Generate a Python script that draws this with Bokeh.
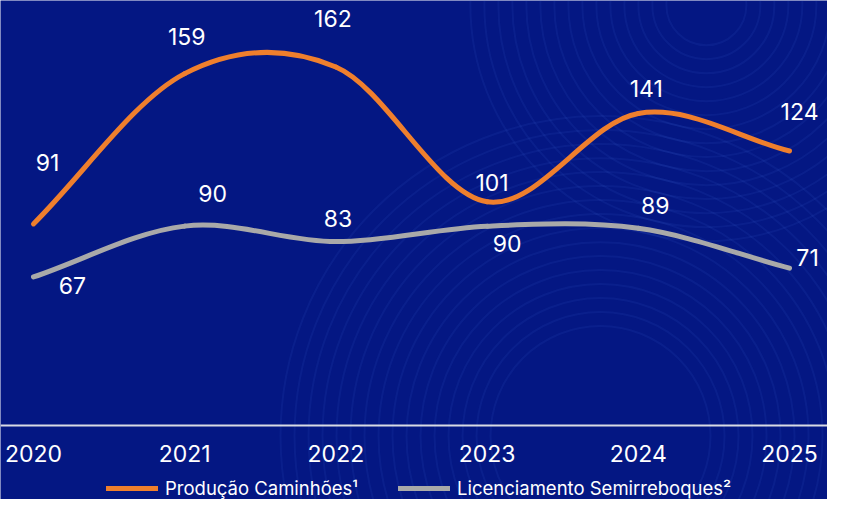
from bokeh.plotting import figure
from bokeh.models import (Range1d, LinearAxis, FixedTicker, Legend, LegendItem,
                          ColumnDataSource)
from bokeh.core.properties import value
from bokeh.embed import file_html
from bokeh.resources import INLINE

# ---------------- data ----------------
years = [2020, 2021, 2022, 2023, 2024, 2025]
year_labels = ["2020", "2021", "2022", "2023", "2024", "2025"]
producao = [91, 159, 162, 101, 141, 124]
licenciamento = [67, 90, 83, 90, 89, 71]
series_names = ["Produção Caminhões¹", "Licenciamento Semirreboques²"]

# ---------------- style ----------------
BG = "#041783"
ORANGE = "#ef7f2d"
GRAY = "#a9a9a9"
FONT = "Inter"
# label offsets (screen px) relative to each point
prod_dx = [14, 2, -3, 5, 8, 10]
prod_dy = [-61, -37, -49, -19, -25, -39]
lic_dx = [39, 28, 2, 20, 17, 18]
lic_dy = [9, -33, -23, 17, -23, -11]


def spline_segments(xs, ys):
    """Cubic Bezier segments (Catmull-Rom style) through the data points."""
    n = len(xs)
    tang = []
    for i in range(n):
        if i == 0:
            m = (ys[1] - ys[0]) / (xs[1] - xs[0])
        elif i == n - 1:
            m = (ys[-1] - ys[-2]) / (xs[-1] - xs[-2])
        else:
            m = (ys[i + 1] - ys[i - 1]) / (xs[i + 1] - xs[i - 1])
        tang.append(m)
    d = dict(x0=[], y0=[], x1=[], y1=[], cx0=[], cy0=[], cx1=[], cy1=[])
    for i in range(n - 1):
        h = xs[i + 1] - xs[i]
        d["x0"].append(xs[i]); d["y0"].append(ys[i])
        d["x1"].append(xs[i + 1]); d["y1"].append(ys[i + 1])
        d["cx0"].append(xs[i] + h / 3); d["cy0"].append(ys[i] + tang[i] * h / 3)
        d["cx1"].append(xs[i + 1] - h / 3); d["cy1"].append(ys[i + 1] - tang[i + 1] * h / 3)
    return ColumnDataSource(d)


p = figure(width=827, height=499,
           x_range=Range1d(2019.782, 2025.251), y_range=Range1d(-33.7, 192.1),
           output_backend="svg", toolbar_location=None,
           x_axis_location=None, y_axis_location=None,
           min_border=0, background_fill_color=BG, border_fill_color=BG,
           outline_line_color=None)
p.xgrid.visible = False
p.ygrid.visible = False

# faint decorative background rings
for cx, cy, r0, r1 in ((2023.75, -5, 110, 330), (2024.45, 190, 40, 250)):
    radii = list(range(r0, r1, 14))
    p.circle(x=[cx] * len(radii), y=[cy] * len(radii), radius=radii,
             radius_units="screen", fill_color=None, line_color="#4a7ee8",
             line_alpha=0.09, line_width=2)

# x axis drawn at value 0
xaxis = LinearAxis(fixed_location=0, ticker=FixedTicker(ticks=years),
                   major_label_overrides={y: l for y, l in zip(years, year_labels)})
xaxis.axis_line_color = "#d9dbe4"
xaxis.axis_line_width = 2
xaxis.major_tick_line_color = None
xaxis.minor_tick_line_color = None
xaxis.major_tick_out = 0
xaxis.major_tick_in = 0
xaxis.major_label_standoff = 20
xaxis.major_label_text_color = "white"
xaxis.major_label_text_font = FONT
xaxis.major_label_text_font_size = "23px"
p.add_layout(xaxis, "below")

r_prod = p.bezier(x0="x0", y0="y0", x1="x1", y1="y1", cx0="cx0", cy0="cy0",
                  cx1="cx1", cy1="cy1", source=spline_segments(years, producao),
                  line_color=ORANGE, line_width=5, line_cap="round")
r_lic = p.bezier(x0="x0", y0="y0", x1="x1", y1="y1", cx0="cx0", cy0="cy0",
                 cx1="cx1", cy1="cy1", source=spline_segments(years, licenciamento),
                 line_color=GRAY, line_width=5, line_cap="round")

for vals, dx, dy in ((producao, prod_dx, prod_dy), (licenciamento, lic_dx, lic_dy)):
    src = ColumnDataSource(dict(x=years, y=vals, t=[str(v) for v in vals], dx=dx, dy=dy))
    p.text(x="x", y="y", text="t", x_offset="dx", y_offset="dy", source=src,
           text_color="white", text_font=value(FONT), text_font_size="23px",
           text_align="center", text_baseline="middle")

legend = Legend(items=[LegendItem(label=series_names[0], renderers=[r_prod]),
                       LegendItem(label=series_names[1], renderers=[r_lic])],
                orientation="horizontal", location=(106, 0),
                background_fill_alpha=0, border_line_alpha=0,
                label_text_color="white", label_text_font=FONT,
                label_text_font_size="18.5px",
                glyph_width=52, glyph_height=20, label_height=20,
                label_standoff=7, spacing=40, padding=0, margin=0)
p.add_layout(legend)

open("out.html", "w").write(file_html(p, INLINE))
